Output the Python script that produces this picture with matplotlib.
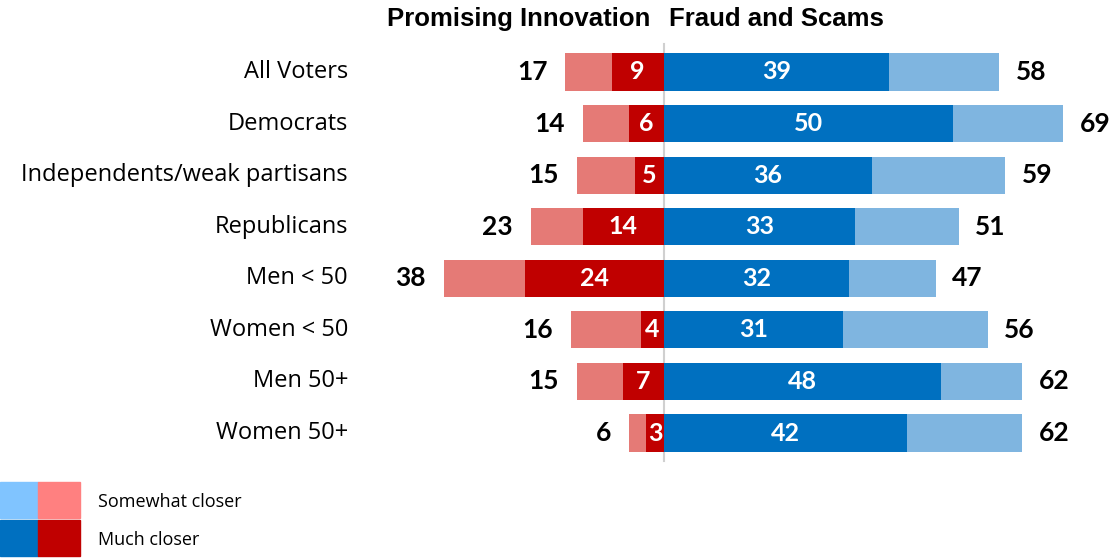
import matplotlib.pyplot as plt
from matplotlib.patches import Rectangle

groups = ['All Voters', 'Democrats', 'Independents/weak partisans', 'Republicans',
          'Men < 50', 'Women < 50', 'Men 50+', 'Women 50+']
innovation_total = [17, 14, 15, 23, 38, 16, 15, 6]
innovation_much = [9, 6, 5, 14, 24, 4, 7, 3]
fraud_total = [58, 69, 59, 51, 47, 56, 62, 62]
fraud_much = [39, 50, 36, 33, 32, 31, 48, 42]

light_red = '#E57A76'
dark_red = '#C00000'
dark_blue = '#0070C0'
light_blue = '#7FB5E0'

label_font = 'Open Sans'
num_font = 'Lato'
head_font = 'Liberation Sans'

fig = plt.figure(figsize=(11.12, 5.58), dpi=100)
ax = fig.add_axes([380 / 1112, 93 / 558, 732 / 1112, 425 / 558])
ax.set_xlim(-49.05, 77.5)
ax.set_ylim(7.62, -0.62)
ax.axis('off')

h = 0.72
for i, g in enumerate(groups):
    # left side (innovation)
    ax.barh(i, -innovation_total[i], height=h, color=light_red)
    ax.barh(i, -innovation_much[i], height=h, color=dark_red)
    # right side (fraud)
    ax.barh(i, fraud_total[i], height=h, color=light_blue)
    ax.barh(i, fraud_much[i], height=h, color=dark_blue)

    ax.text(-innovation_much[i] / 2, i, str(innovation_much[i]), ha='center', va='center',
            color='white', fontsize=18, fontweight='bold', family=num_font)
    ax.text(fraud_much[i] / 2, i, str(fraud_much[i]), ha='center', va='center',
            color='white', fontsize=18, fontweight='bold', family=num_font)
    ax.annotate(str(innovation_total[i]), (-innovation_total[i], i), xytext=(-13, 0),
                textcoords='offset points', ha='right', va='center',
                fontsize=19, fontweight='bold', family=num_font)
    ax.annotate(str(fraud_total[i]), (fraud_total[i], i), xytext=(12, 0),
                textcoords='offset points', ha='left', va='center',
                fontsize=19, fontweight='bold', family=num_font)
    ax.annotate(g, (-49.05, i), xytext=(-23, 0), textcoords='offset points',
                ha='right', va='center', fontsize=17, family=label_font,
                annotation_clip=False)

ax.plot([0, 0], [-0.55, 7.55], color='#D0D0D0', lw=1.5, zorder=0.5)

fig.text(650 / 1112, 1 - 19 / 558, 'Promising Innovation', ha='right', va='center',
         fontsize=18.5, fontweight='bold', family=head_font)
fig.text(669 / 1112, 1 - 19 / 558, 'Fraud and Scams', ha='left', va='center',
         fontsize=18.5, fontweight='bold', family=head_font)

# legend
leg_items = [('Somewhat closer', '#80C4FF', '#FF8080', 482),
             ('Much closer', dark_blue, dark_red, 520)]
for text, c1, c2, top in leg_items:
    fig.patches.append(Rectangle((0, 1 - (top + 36) / 558), 38 / 1112, 36 / 558,
                                 transform=fig.transFigure, color=c1))
    fig.patches.append(Rectangle((38 / 1112, 1 - (top + 36) / 558), 42 / 1112, 36 / 558,
                                 transform=fig.transFigure, color=c2))
    fig.text(98 / 1112, 1 - (top + 20) / 558, text, ha='left', va='center',
             fontsize=13, family=label_font)

fig.savefig('out.png', dpi=100)
